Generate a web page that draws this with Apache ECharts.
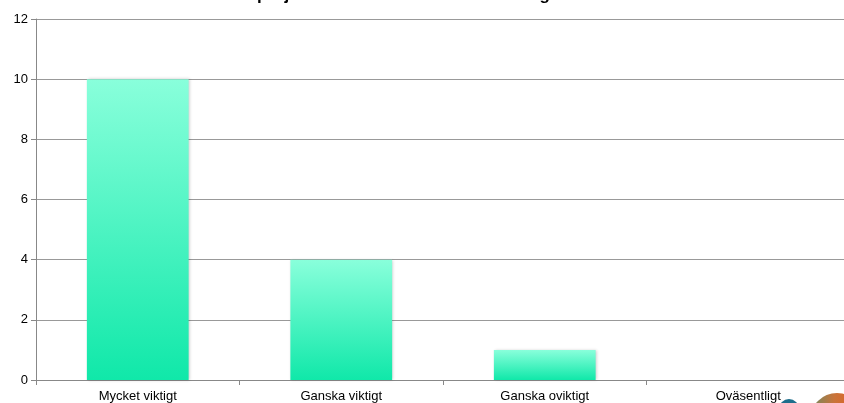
<!DOCTYPE html>
<html>
<head>
<meta charset="utf-8">
<script src="https://cdn.jsdelivr.net/npm/echarts@6/dist/echarts.min.js"></script>
<style>
  html, body { margin: 0; padding: 0; background: #fff; overflow: hidden; }
  #chart { width: 850px; height: 403px; }
</style>
</head>
<body>
<div id="chart"></div>
<script>
// Svar per kategori
const categories = ['Mycket viktigt', 'Ganska viktigt', 'Ganska oviktigt', 'Oväsentligt'];
const answers = [10, 4, 1, 0];
const titleText = 'Vikten av projektet för kommunens utveckling';

const chart = echarts.init(document.getElementById('chart'));

const barFill = new echarts.graphic.LinearGradient(0, 0, 0, 1, [
  { offset: 0, color: '#89FFDB' },
  { offset: 1, color: '#10E8A9' }
]);

chart.setOption({
  animation: false,
  title: {
    text: titleText,
    left: 173,
    top: -18,
    textStyle: { fontFamily: 'Liberation Sans, Arial', fontWeight: 'bold', fontSize: 17, color: '#000' }
  },
  grid: { left: 36, top: 19, bottom: 22, right: 0, containLabel: false },
  xAxis: {
    type: 'category',
    data: categories,
    axisLine: { lineStyle: { color: '#888', width: 1 } },
    axisTick: { show: true, length: 5, lineStyle: { color: '#888' } },
    axisLabel: { color: '#000', fontFamily: 'Liberation Sans, Arial', fontSize: 13, margin: 10 }
  },
  yAxis: {
    type: 'value',
    min: 0,
    max: 12,
    interval: 2,
    axisLine: { show: true, lineStyle: { color: '#888', width: 1 } },
    axisTick: { show: true, length: 5, lineStyle: { color: '#888' } },
    axisLabel: { color: '#000', fontFamily: 'Liberation Sans, Arial', fontSize: 13, margin: 8 },
    splitLine: { show: true, lineStyle: { color: '#999', width: 1 } }
  },
  series: [{
    type: 'bar',
    data: answers,
    barWidth: '50%',
    itemStyle: {
      color: barFill,
      shadowColor: 'rgba(0,0,0,0.22)',
      shadowBlur: 3,
      shadowOffsetX: 1,
      shadowOffsetY: 0
    }
  }],
  graphic: [
    {
      type: 'circle',
      shape: { cx: 789, cy: 409, r: 10 },
      style: { fill: '#1d6e8c' },
      silent: true
    },
    {
      type: 'circle',
      shape: { cx: 837, cy: 420, r: 27 },
      style: {
        fill: new echarts.graphic.LinearGradient(0, 0, 1, 0, [
          { offset: 0, color: '#6f8a62' },
          { offset: 0.45, color: '#c9743a' },
          { offset: 1, color: '#ea5a1a' }
        ])
      },
      silent: true
    }
  ]
});
</script>
</body>
</html>
